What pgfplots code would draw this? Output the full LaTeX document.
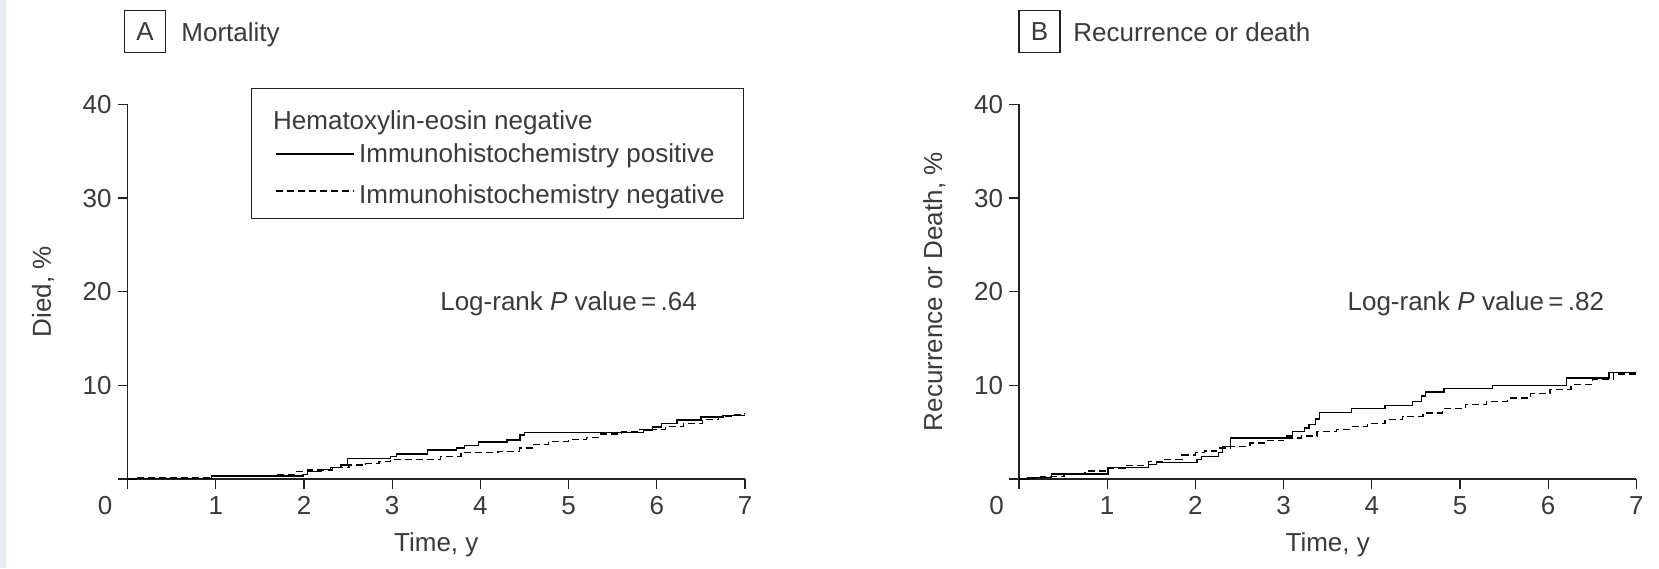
\documentclass[border=0pt]{standalone}
\usepackage{fontspec}
\setmainfont{Liberation Sans}
\usepackage{pgfplots}
\pgfplotsset{compat=1.18}
\definecolor{txt}{HTML}{3A3A3A}
\definecolor{axc}{HTML}{222222}
\definecolor{edge}{HTML}{E3EFF5}
\newcommand\lf{\fontsize{13}{15.6}\selectfont}
\pgfplotsset{
  km/.style={
    scale only axis, width=308.7pt, height=187.3pt,
    xmin=0, xmax=7, ymin=0, ymax=40,
    axis x line*=bottom, axis y line*=left,
    axis line style={line width=0.6pt, axc},
    tick style={line width=0.6pt, axc},
    tick align=outside, major tick length=4.8pt,
    xtick={1,2,3,4,5,6,7},
    extra x ticks={0}, extra x tick labels={0},
    extra x tick style={xticklabel style={xshift=-11.2pt}},
    ytick={0,10,20,30,40}, yticklabels={{},10,20,30,40},
    /pgf/number format/assume math mode=true,
    tick label style={font=\lf, text=txt},
    xticklabel style={anchor=center, yshift=-8.55pt},
    yticklabel style={anchor=east, inner sep=0pt, xshift=-3.0pt},
    every axis y label/.style={at={(axis description cs:0,0.5)}, xshift=-42.3pt, rotate=90, anchor=center, font=\lf, text=txt},
    every axis x label/.style={at={(axis description cs:0.5,0)}, yshift=-33pt, anchor=center, font=\lf, text=txt},
    xlabel={Time, y},
    legend image code/.code={\draw[##1] (0pt,0pt) -- (39pt,0pt);},
  },
  solidkm/.style={const plot, line width=0.7pt, black},
  dashkm/.style={const plot, line width=0.7pt, black, dash pattern=on 3.5pt off 2pt},
}
\begin{document}
\begin{tikzpicture}
\path[use as bounding box] (0,0) rectangle (829.5pt,284pt);
\fill[edge] (0,0) rectangle (3pt,284pt);

% Panel A
\begin{axis}[km, at={(63.8pt,44.5pt)}, anchor=south west,
  ylabel={Died, \%},
  legend style={at={(0.999,1.0435)}, anchor=north east, draw=axc, line width=0.6pt,
    font=\lf, text=txt, inner xsep=12pt, inner ysep=4pt, row sep=1.25pt},
  legend cell align=left,
  legend entries={{\hspace*{-43pt}\rule{0pt}{14.5pt}Hematoxylin-eosin negative}, {Immunohistochemistry positive\hspace*{-4.5pt}}, {\rule{0pt}{14pt}Immunohistochemistry negative\hspace*{-4.5pt}}},
]
\addlegendimage{empty legend}
\addplot[solidkm] coordinates {
(0,0) (0.1,0.08) (0.95,0.32) (1.99,0.5) (2.04,0.8) (2.2,1.0) (2.3,1.2) (2.42,1.5)
(2.49,2.17) (2.98,2.4) (3.05,2.67) (3.4,3.1) (3.73,3.3) (3.82,3.56) (3.98,3.95)
(4.3,4.16) (4.45,4.7) (4.5,4.98) (5.85,5.25) (5.95,5.55) (6.05,5.9) (6.23,6.3)
(6.5,6.6) (6.75,6.75) (7.0,6.75)
};
\addplot[dashkm] coordinates {
(0,0) (0.1,0.14) (0.95,0.3) (1.66,0.5) (1.9,0.8) (2.04,0.96) (2.32,1.25) (2.51,1.5)
(2.7,1.65) (2.85,1.85) (2.98,2.1) (3.55,2.4) (3.78,2.8) (4.2,2.95) (4.44,3.3)
(4.6,3.7) (4.77,4.0) (5.0,4.2) (5.2,4.4) (5.34,4.8) (5.6,5.0) (5.81,5.3) (6.1,5.6)
(6.3,5.9) (6.52,6.35) (6.7,6.65) (6.85,6.9) (7.0,7.0)
};
\node[font=\lf, text=txt] at (axis cs:5.0,18.7) {Log-rank \textit{P} value\,=\,.64};
\end{axis}

% Panel B
\begin{axis}[km, at={(509.5pt,44.5pt)}, anchor=south west,
  ylabel={Recurrence or Death, \%},
]
\addplot[solidkm] coordinates {
(0,0) (0.1,0.15) (0.37,0.54) (1.01,1.25) (1.47,1.58) (1.56,1.76) (2.02,2.1) (2.07,2.4)
(2.26,2.83) (2.31,3.48) (2.4,4.37) (3.03,4.6) (3.1,5.1) (3.24,5.45) (3.29,5.8)
(3.36,6.4) (3.41,7.13) (3.77,7.5) (4.15,7.85) (4.46,8.28) (4.56,8.85) (4.61,9.28)
(4.82,9.64) (5.37,10.0) (6.21,10.8) (6.69,11.36) (7.0,11.4)
};
\addplot[dashkm] coordinates {
(0,0) (0.1,0.1) (0.25,0.25) (0.51,0.6) (0.75,0.85) (0.99,1.15) (1.2,1.45) (1.47,1.86)
(1.65,2.1) (1.85,2.58) (2.0,2.8) (2.1,3.0) (2.24,3.3) (2.4,3.5) (2.62,3.83) (2.8,4.1)
(3.0,4.37) (3.2,4.6) (3.38,5.1) (3.6,5.3) (3.77,5.6) (3.95,5.9) (4.15,6.34) (4.35,6.7)
(4.58,7.06) (4.8,7.5) (5.06,7.96) (5.3,8.3) (5.54,8.67) (5.8,9.1) (6.02,9.57)
(6.26,10.07) (6.5,10.6) (6.74,11.2) (7.0,11.43)
};
\node[font=\lf, text=txt] at (axis cs:5.18,18.7) {Log-rank \textit{P} value\,=\,.82};
\end{axis}

% Panel titles
\node[draw=axc, line width=0.6pt, minimum width=20.5pt, minimum height=20.8pt, inner sep=0pt, font=\lf, text=txt] at (72.5pt,268.25pt) {A};
\node[anchor=base west, inner sep=0pt, font=\lf, text=txt] at (90.5pt,263.2pt) {Mortality};
\node[draw=axc, line width=0.6pt, minimum width=20.5pt, minimum height=20.8pt, inner sep=0pt, font=\lf, text=txt] at (519.75pt,268.25pt) {B};
\node[anchor=base west, inner sep=0pt, font=\lf, text=txt] at (536.5pt,263.2pt) {Recurrence or death};
\end{tikzpicture}
\end{document}
